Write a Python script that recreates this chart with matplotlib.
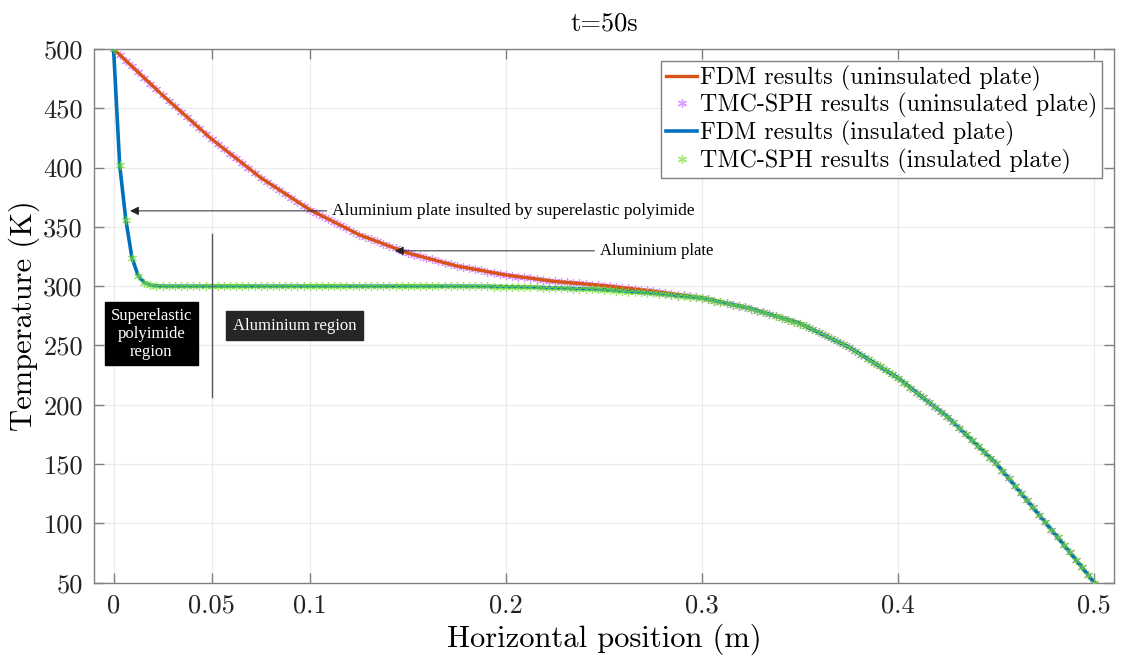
import numpy as np
import matplotlib
matplotlib.use("Agg")
import matplotlib.pyplot as plt

# Horizontal positions of the SPH particles / FDM nodes (m)
x_pos = np.linspace(0.0, 0.5, 161)

# Temperatures (K)
temp_uninsulated = [
    500.0, 495.1, 490.2, 485.4, 480.5, 475.6, 470.8, 465.9, 461.0,
    456.4, 451.8, 447.1, 442.5, 437.9, 433.3, 428.6, 424.0,
    419.9, 415.9, 411.8, 407.8, 403.7, 399.6, 395.6, 391.5,
    388.1, 384.8, 381.4, 378.0, 374.6, 371.3, 367.9, 364.5,
    361.9, 359.3, 356.6, 354.0, 351.4, 348.8, 346.1, 343.5,
    341.6, 339.6, 337.7, 335.8, 333.8, 331.9, 329.9, 328.0,
    326.6, 325.3, 323.9, 322.5, 321.1, 319.8, 318.4, 317.0,
    316.1, 315.1, 314.2, 313.3, 312.3, 311.4, 310.4, 309.5,
    308.8, 308.1, 307.4, 306.8, 306.1, 305.4, 304.7, 304.0,
    303.6, 303.1, 302.7, 302.3, 301.8, 301.4, 300.9, 300.5,
    299.9, 299.3, 298.7, 298.2, 297.6, 297.0, 296.4, 295.8,
    295.1, 294.4, 293.6, 292.9, 292.2, 291.5, 290.7, 290.0,
    288.9, 287.8, 286.6, 285.5, 284.4, 283.3, 282.1, 281.0,
    279.4, 277.9, 276.3, 274.8, 273.2, 271.6, 270.1, 268.5,
    266.0, 263.5, 261.0, 258.5, 256.0, 253.5, 251.0, 248.5,
    245.3, 242.0, 238.8, 235.5, 232.3, 229.0, 225.8, 222.5,
    218.4, 214.4, 210.3, 206.3, 202.2, 198.1, 194.1, 190.0,
    185.1, 180.1, 175.2, 170.3, 165.3, 160.4, 155.4, 150.5,
    144.3, 138.1, 131.9, 125.8, 119.6, 113.4, 107.2, 101.0,
    94.6, 88.3, 81.9, 75.5, 69.1, 62.8, 56.4, 50.0,
]

temp_insulated = [
    500.0, 402.0, 356.0, 324.0, 309.0, 303.0, 300.8, 300.2, 300.0,
    300.0, 300.0, 300.0, 300.0, 300.0, 300.0, 300.0, 300.0,
    300.0, 300.0, 300.0, 300.0, 300.0, 300.0, 300.0, 300.0,
    300.0, 300.0, 300.0, 300.0, 300.0, 300.0, 300.0, 300.0,
    300.0, 300.0, 300.0, 300.0, 300.0, 300.0, 300.0, 300.0,
    300.0, 300.0, 300.0, 300.0, 300.0, 300.0, 300.0, 300.0,
    300.0, 300.0, 300.0, 300.0, 300.0, 300.0, 300.0, 300.0,
    300.0, 299.9, 299.9, 299.8, 299.8, 299.7, 299.7, 299.6,
    299.5, 299.4, 299.2, 299.1, 299.0, 298.8, 298.7, 298.5,
    298.3, 298.1, 297.9, 297.8, 297.6, 297.4, 297.2, 297.0,
    296.6, 296.3, 295.9, 295.5, 295.1, 294.8, 294.4, 294.0,
    293.5, 293.0, 292.5, 292.0, 291.5, 291.0, 290.5, 290.0,
    288.9, 287.8, 286.6, 285.5, 284.4, 283.3, 282.1, 281.0,
    279.4, 277.9, 276.3, 274.8, 273.2, 271.6, 270.1, 268.5,
    266.0, 263.5, 261.0, 258.5, 256.0, 253.5, 251.0, 248.5,
    245.3, 242.0, 238.8, 235.5, 232.3, 229.0, 225.8, 222.5,
    218.4, 214.4, 210.3, 206.3, 202.2, 198.1, 194.1, 190.0,
    185.1, 180.1, 175.2, 170.3, 165.3, 160.4, 155.4, 150.5,
    144.3, 138.1, 131.9, 125.8, 119.6, 113.4, 107.2, 101.0,
    94.6, 88.3, 81.9, 75.5, 69.1, 62.8, 56.4, 50.0,
]

x_ticks = [0, 0.05, 0.1, 0.2, 0.3, 0.4, 0.5]
x_tick_labels = ["0", "0.05", "0.1", "0.2", "0.3", "0.4", "0.5"]
y_ticks = [50, 100, 150, 200, 250, 300, 350, 400, 450, 500]

legend_labels = [
    "FDM results (uninsulated plate)",
    "TMC-SPH results (uninsulated plate)",
    "FDM results (insulated plate)",
    "TMC-SPH results (insulated plate)",
]

plt.rcParams["font.family"] = "serif"
plt.rcParams["font.serif"] = ["cmr10"]
plt.rcParams["mathtext.fontset"] = "cm"
plt.rcParams["axes.unicode_minus"] = False

ANNOT_FONT = "Liberation Serif"
AXIS_GRAY = "#808080"


def main():
    fig = plt.figure(figsize=(11.36, 6.61), dpi=100)
    ax = fig.add_axes([0.0827, 0.1185, 0.8979, 0.8074])

    star = (6, 2, 0)
    # SPH stars of the uninsulated plate sit under the red FDM line
    ax.plot(x_pos, temp_uninsulated, ls="none", marker=star, ms=6.5, mew=0.9,
            color="#CC77FF", alpha=0.75, label=legend_labels[1], zorder=3)
    ax.plot(x_pos, temp_uninsulated, color="#D95319", lw=2.4, label=legend_labels[0], zorder=4)
    ax.plot(x_pos, temp_insulated, color="#0072BD", lw=2.6, label=legend_labels[2], zorder=5)
    ax.plot(x_pos, temp_insulated, ls="none", marker=star, ms=6.5, mew=0.9,
            color="#77DD33", alpha=0.7, label=legend_labels[3], zorder=6)

    ax.set_xlim(-0.01, 0.51)
    ax.set_ylim(50, 500)
    ax.set_xticks(x_ticks)
    ax.set_xticklabels(x_tick_labels)
    ax.set_yticks(y_ticks)
    ax.tick_params(direction="in", length=7, width=1, color=AXIS_GRAY,
                   labelsize=19, top=True, right=True, pad=8, labelcolor="#222222")
    ax.grid(True, color="#ebebeb", lw=0.9)
    ax.set_axisbelow(True)
    for sp in ax.spines.values():
        sp.set_color(AXIS_GRAY)
        sp.set_linewidth(1.0)

    ax.set_xlabel("Horizontal position (m)", fontsize=22, labelpad=4)
    ax.set_ylabel("Temperature (K)", fontsize=22, labelpad=2)
    ax.set_title("t=50s", fontsize=19, pad=13)

    handles, labels = ax.get_legend_handles_labels()
    order = [1, 0, 2, 3]
    leg = ax.legend([handles[i] for i in order], [labels[i] for i in order],
                    loc="upper right", fontsize=17.3, handlelength=1.3, handletextpad=0.1,
                    borderpad=0.2, labelspacing=0.1, borderaxespad=0.5, fancybox=False,
                    framealpha=1, edgecolor=AXIS_GRAY)
    leg.get_frame().set_linewidth(1.0)

    # annotations
    arrow = dict(arrowstyle="-|>", color="#222222", lw=0.7, mutation_scale=13)
    ax.annotate("Aluminium plate insulted by superelastic polyimide",
                xy=(0.007, 363.5), xytext=(0.1115, 363.5), va="center", ha="left",
                fontsize=12.6, family=ANNOT_FONT, arrowprops=arrow, zorder=7)
    ax.annotate("Aluminium plate", xy=(0.142, 329.8), xytext=(0.248, 329.8),
                va="center", ha="left", fontsize=12, family=ANNOT_FONT,
                arrowprops=arrow, zorder=7)

    ax.plot([0.05, 0.05], [206.7, 344], color="#555555", lw=1.0, zorder=7)

    ax.text(0.0192, 259.8, "Superelastic\npolyimide\nregion", ha="center", va="center",
            fontsize=12, family=ANNOT_FONT, color="white", linespacing=1.15,
            bbox=dict(boxstyle="square,pad=0.35", fc="black", ec="black"), zorder=8)
    ax.text(0.0924, 266.6, "Aluminium region", ha="center", va="center",
            fontsize=12, family=ANNOT_FONT, color="white",
            bbox=dict(boxstyle="square,pad=0.4", fc="#262626", ec="#262626"), zorder=8)

    fig.savefig("out.png", dpi=100)


if __name__ == "__main__":
    main()
